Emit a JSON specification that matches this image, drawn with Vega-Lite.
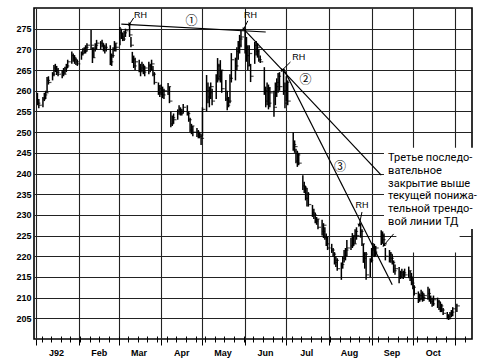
{
  "$schema": "https://vega.github.io/schema/vega-lite/v6.json",
  "width": 438,
  "height": 331,
  "autosize": "none",
  "padding": {"left": 34, "top": 8, "right": 13, "bottom": 20},
  "background": "white",
  "config": {
    "view": {"stroke": "#000", "strokeWidth": 1.6},
    "axisY": {"grid": true, "gridColor": "#222", "gridWidth": 1.1, "domain": false, "ticks": false, "labelPadding": 3, "labelFont": "Liberation Sans", "labelFontWeight": "bold", "labelFontSize": 9, "labelColor": "#000"}
  },
  "datasets": {
    "bars": [
      {"d":"1992-01-02","h":259.5,"l":256.5,"c":257},
      {"d":"1992-01-03","h":258,"l":255.8,"c":256.5},
      {"d":"1992-01-06","h":258.5,"l":256,"c":258},
      {"d":"1992-01-07","h":259.5,"l":257.5,"c":259},
      {"d":"1992-01-08","h":260,"l":258,"c":259.5},
      {"d":"1992-01-09","h":263.3,"l":259.5,"c":262.5},
      {"d":"1992-01-10","h":263.5,"l":261.5,"c":262},
      {"d":"1992-01-13","h":264.5,"l":262.5,"c":264},
      {"d":"1992-01-14","h":266.2,"l":263.5,"c":265.5},
      {"d":"1992-01-15","h":266.5,"l":264.5,"c":265},
      {"d":"1992-01-16","h":266,"l":263.8,"c":264.5},
      {"d":"1992-01-17","h":265.5,"l":263.5,"c":264},
      {"d":"1992-01-20","h":265,"l":263,"c":264.5},
      {"d":"1992-01-21","h":265.5,"l":263.5,"c":264},
      {"d":"1992-01-22","h":265.8,"l":264,"c":265.5},
      {"d":"1992-01-23","h":266.5,"l":264.5,"c":266},
      {"d":"1992-01-24","h":267.5,"l":265.5,"c":267},
      {"d":"1992-01-27","h":269.5,"l":266.5,"c":268.5},
      {"d":"1992-01-28","h":269,"l":267,"c":268},
      {"d":"1992-01-29","h":268.6,"l":266.5,"c":267.5},
      {"d":"1992-01-30","h":268,"l":266.2,"c":267},
      {"d":"1992-01-31","h":267.5,"l":266,"c":266.5},
      {"d":"1992-02-03","h":269.5,"l":267.5,"c":269},
      {"d":"1992-02-04","h":270.3,"l":268.5,"c":270},
      {"d":"1992-02-05","h":270.5,"l":269,"c":269.5},
      {"d":"1992-02-06","h":271,"l":269,"c":270.5},
      {"d":"1992-02-07","h":271.5,"l":269.5,"c":271},
      {"d":"1992-02-10","h":274.7,"l":270,"c":271},
      {"d":"1992-02-11","h":270.5,"l":266.7,"c":268},
      {"d":"1992-02-12","h":270.5,"l":268,"c":270},
      {"d":"1992-02-13","h":271.5,"l":269.5,"c":271},
      {"d":"1992-02-14","h":272.3,"l":270,"c":271.5},
      {"d":"1992-02-17","h":272,"l":270,"c":271.5},
      {"d":"1992-02-18","h":272.3,"l":270.5,"c":271},
      {"d":"1992-02-19","h":271.5,"l":269.5,"c":270},
      {"d":"1992-02-20","h":271,"l":269,"c":270.5},
      {"d":"1992-02-21","h":271.5,"l":269.5,"c":270},
      {"d":"1992-02-24","h":271,"l":266.2,"c":267},
      {"d":"1992-02-25","h":269,"l":266,"c":268.5},
      {"d":"1992-02-26","h":270.5,"l":268,"c":270},
      {"d":"1992-02-27","h":272,"l":269.5,"c":271.5},
      {"d":"1992-02-28","h":271.5,"l":269.5,"c":270.5},
      {"d":"1992-03-02","h":275.4,"l":271,"c":274},
      {"d":"1992-03-03","h":275,"l":272.5,"c":273},
      {"d":"1992-03-04","h":274,"l":272,"c":272.5},
      {"d":"1992-03-05","h":274.5,"l":272,"c":274},
      {"d":"1992-03-06","h":275,"l":273,"c":274.5},
      {"d":"1992-03-09","h":276.2,"l":273,"c":273.5},
      {"d":"1992-03-10","h":273,"l":270.5,"c":271},
      {"d":"1992-03-11","h":269.4,"l":266.7,"c":267.5},
      {"d":"1992-03-12","h":268.5,"l":265.5,"c":266},
      {"d":"1992-03-13","h":268,"l":265,"c":267},
      {"d":"1992-03-16","h":267.5,"l":264.5,"c":265},
      {"d":"1992-03-17","h":266.5,"l":263.5,"c":265.5},
      {"d":"1992-03-18","h":267,"l":264.5,"c":266},
      {"d":"1992-03-19","h":266.5,"l":264,"c":264.5},
      {"d":"1992-03-20","h":266,"l":263.5,"c":265.5},
      {"d":"1992-03-23","h":267,"l":264,"c":266},
      {"d":"1992-03-24","h":266.5,"l":264.5,"c":265},
      {"d":"1992-03-25","h":267.5,"l":265,"c":266.5},
      {"d":"1992-03-26","h":266,"l":263.5,"c":264},
      {"d":"1992-03-27","h":264.5,"l":261.5,"c":262},
      {"d":"1992-03-30","h":262,"l":259,"c":259.5},
      {"d":"1992-03-31","h":261.4,"l":258.5,"c":260.5},
      {"d":"1992-04-01","h":261.5,"l":259,"c":260},
      {"d":"1992-04-02","h":261,"l":258.2,"c":259},
      {"d":"1992-04-03","h":260.5,"l":258,"c":260},
      {"d":"1992-04-06","h":261.9,"l":259,"c":261},
      {"d":"1992-04-07","h":261,"l":257,"c":257.5},
      {"d":"1992-04-08","h":255,"l":251.2,"c":252},
      {"d":"1992-04-09","h":254,"l":251.5,"c":253.5},
      {"d":"1992-04-10","h":254.5,"l":252,"c":253},
      {"d":"1992-04-13","h":255.5,"l":253,"c":255},
      {"d":"1992-04-14","h":256.5,"l":254.2,"c":255.5},
      {"d":"1992-04-15","h":256,"l":254,"c":254.5},
      {"d":"1992-04-16","h":255.5,"l":254,"c":255},
      {"d":"1992-04-17","h":256.8,"l":254.5,"c":256},
      {"d":"1992-04-20","h":256.5,"l":254,"c":254.5},
      {"d":"1992-04-21","h":255,"l":252.5,"c":253},
      {"d":"1992-04-22","h":253.5,"l":250,"c":250.5},
      {"d":"1992-04-23","h":252,"l":249.5,"c":251.5},
      {"d":"1992-04-24","h":251.5,"l":249,"c":250},
      {"d":"1992-04-27","h":251,"l":248.8,"c":250},
      {"d":"1992-04-28","h":250.5,"l":248.5,"c":249.5},
      {"d":"1992-04-29","h":250,"l":248.5,"c":249},
      {"d":"1992-04-30","h":249.5,"l":246.9,"c":248.5},
      {"d":"1992-05-01","h":256,"l":249,"c":255.5},
      {"d":"1992-05-04","h":263.8,"l":255,"c":260},
      {"d":"1992-05-05","h":262,"l":257,"c":258.5},
      {"d":"1992-05-06","h":261,"l":256,"c":259.5},
      {"d":"1992-05-07","h":262,"l":258,"c":261},
      {"d":"1992-05-08","h":260.5,"l":256.5,"c":257.5},
      {"d":"1992-05-11","h":264,"l":258,"c":263},
      {"d":"1992-05-12","h":267.9,"l":262,"c":266},
      {"d":"1992-05-13","h":266.5,"l":262.5,"c":263.5},
      {"d":"1992-05-14","h":267.4,"l":262,"c":265},
      {"d":"1992-05-15","h":265,"l":259.5,"c":260.5},
      {"d":"1992-05-18","h":262.6,"l":257.5,"c":258},
      {"d":"1992-05-19","h":260,"l":255.3,"c":256.5},
      {"d":"1992-05-20","h":258.5,"l":256,"c":257.5},
      {"d":"1992-05-21","h":264,"l":257,"c":263},
      {"d":"1992-05-22","h":269.1,"l":262,"c":267.5},
      {"d":"1992-05-25","h":268,"l":262.5,"c":266},
      {"d":"1992-05-26","h":270.5,"l":265,"c":269.5},
      {"d":"1992-05-27","h":272,"l":267.5,"c":271},
      {"d":"1992-05-28","h":273.5,"l":269,"c":272.5},
      {"d":"1992-05-29","h":274.6,"l":270.5,"c":273},
      {"d":"1992-06-01","h":275,"l":269,"c":270.5},
      {"d":"1992-06-02","h":273,"l":267,"c":268.5},
      {"d":"1992-06-03","h":271,"l":265,"c":266},
      {"d":"1992-06-04","h":271,"l":266,"c":269},
      {"d":"1992-06-05","h":266.5,"l":262.1,"c":263.5},
      {"d":"1992-06-08","h":271.8,"l":266.5,"c":271},
      {"d":"1992-06-09","h":272,"l":268.5,"c":269.5},
      {"d":"1992-06-10","h":271.5,"l":268,"c":270.5},
      {"d":"1992-06-11","h":270,"l":267,"c":267.5},
      {"d":"1992-06-12","h":268.5,"l":266.7,"c":267},
      {"d":"1992-06-15","h":265.7,"l":259,"c":260},
      {"d":"1992-06-16","h":261,"l":256,"c":257.5},
      {"d":"1992-06-17","h":262,"l":256.5,"c":260.5},
      {"d":"1992-06-18","h":261.5,"l":255.5,"c":257},
      {"d":"1992-06-19","h":260.9,"l":256,"c":259.5},
      {"d":"1992-06-22","h":260,"l":253.7,"c":256},
      {"d":"1992-06-23","h":262,"l":256.5,"c":261},
      {"d":"1992-06-24","h":263,"l":258.5,"c":262},
      {"d":"1992-06-25","h":264.3,"l":259.5,"c":263.5},
      {"d":"1992-06-26","h":264.5,"l":260,"c":261},
      {"d":"1992-06-29","h":265.3,"l":259,"c":260},
      {"d":"1992-06-30","h":262,"l":255.8,"c":257},
      {"d":"1992-07-01","h":263.5,"l":257.5,"c":262},
      {"d":"1992-07-02","h":262.5,"l":256.5,"c":257.5},
      {"d":"1992-07-06","h":250,"l":245.5,"c":247},
      {"d":"1992-07-07","h":248,"l":245,"c":246.5},
      {"d":"1992-07-08","h":246,"l":242.5,"c":243},
      {"d":"1992-07-09","h":245.5,"l":241.6,"c":244.5},
      {"d":"1992-07-10","h":245,"l":242,"c":242.5},
      {"d":"1992-07-13","h":239.6,"l":236,"c":237},
      {"d":"1992-07-14","h":238,"l":235.3,"c":236.5},
      {"d":"1992-07-15","h":237,"l":233.5,"c":234},
      {"d":"1992-07-16","h":236.5,"l":232,"c":235},
      {"d":"1992-07-17","h":235.5,"l":232,"c":232.5},
      {"d":"1992-07-20","h":232.4,"l":229.5,"c":230.5},
      {"d":"1992-07-21","h":231.5,"l":229,"c":230},
      {"d":"1992-07-22","h":230.5,"l":228,"c":228.5},
      {"d":"1992-07-23","h":229.5,"l":227.6,"c":229},
      {"d":"1992-07-24","h":229,"l":226.5,"c":227},
      {"d":"1992-07-27","h":228.8,"l":225,"c":226},
      {"d":"1992-07-28","h":228,"l":224.4,"c":227.5},
      {"d":"1992-07-29","h":227,"l":224,"c":224.5},
      {"d":"1992-07-30","h":225.5,"l":222.5,"c":223},
      {"d":"1992-07-31","h":224.7,"l":221.5,"c":222},
      {"d":"1992-08-03","h":223,"l":220.8,"c":221.5},
      {"d":"1992-08-04","h":222,"l":219.8,"c":220.5},
      {"d":"1992-08-05","h":221,"l":218,"c":218.5},
      {"d":"1992-08-06","h":220,"l":217.4,"c":219},
      {"d":"1992-08-07","h":219.5,"l":216.5,"c":217},
      {"d":"1992-08-10","h":218.5,"l":214.3,"c":218},
      {"d":"1992-08-11","h":220,"l":217,"c":219.5},
      {"d":"1992-08-12","h":221.5,"l":218.5,"c":220},
      {"d":"1992-08-13","h":222,"l":219,"c":221.5},
      {"d":"1992-08-14","h":223.9,"l":220,"c":222},
      {"d":"1992-08-17","h":224.5,"l":221.5,"c":222.5},
      {"d":"1992-08-18","h":225.6,"l":222,"c":225},
      {"d":"1992-08-19","h":225,"l":222.5,"c":223},
      {"d":"1992-08-20","h":226.5,"l":223,"c":226},
      {"d":"1992-08-21","h":227,"l":224,"c":225},
      {"d":"1992-08-24","h":228,"l":224.5,"c":226},
      {"d":"1992-08-25","h":226.5,"l":222.5,"c":223},
      {"d":"1992-08-26","h":223,"l":218.4,"c":219.5},
      {"d":"1992-08-27","h":221,"l":217,"c":220.5},
      {"d":"1992-08-28","h":221,"l":214.3,"c":215.5},
      {"d":"1992-08-31","h":219.5,"l":215,"c":219},
      {"d":"1992-09-01","h":222,"l":218.5,"c":221.5},
      {"d":"1992-09-02","h":223.2,"l":220,"c":222},
      {"d":"1992-09-03","h":223,"l":219.8,"c":221},
      {"d":"1992-09-04","h":222.5,"l":220,"c":222},
      {"d":"1992-09-08","h":226.3,"l":222.7,"c":225},
      {"d":"1992-09-09","h":226,"l":223,"c":224},
      {"d":"1992-09-10","h":225.5,"l":222.5,"c":223},
      {"d":"1992-09-11","h":222,"l":219,"c":220},
      {"d":"1992-09-14","h":221.5,"l":218.5,"c":220.5},
      {"d":"1992-09-15","h":221,"l":218.4,"c":219.5},
      {"d":"1992-09-16","h":220.5,"l":218,"c":218.5},
      {"d":"1992-09-17","h":219,"l":216,"c":216.5},
      {"d":"1992-09-18","h":218,"l":215.5,"c":217},
      {"d":"1992-09-21","h":217.4,"l":213.5,"c":215},
      {"d":"1992-09-22","h":216.5,"l":214.5,"c":216},
      {"d":"1992-09-23","h":217,"l":214.7,"c":215.5},
      {"d":"1992-09-24","h":216.5,"l":214.5,"c":216},
      {"d":"1992-09-25","h":217,"l":215,"c":215.5},
      {"d":"1992-09-28","h":217.5,"l":214.7,"c":216.5},
      {"d":"1992-09-29","h":216.5,"l":214,"c":215},
      {"d":"1992-09-30","h":216,"l":213,"c":213.5},
      {"d":"1992-10-01","h":215,"l":212,"c":212.5},
      {"d":"1992-10-02","h":213,"l":210.5,"c":211},
      {"d":"1992-10-05","h":211.5,"l":208.7,"c":209.5},
      {"d":"1992-10-06","h":211,"l":209,"c":210.5},
      {"d":"1992-10-07","h":211.9,"l":209.5,"c":211},
      {"d":"1992-10-08","h":211.5,"l":209,"c":210},
      {"d":"1992-10-09","h":211,"l":209.2,"c":210.5},
      {"d":"1992-10-12","h":212.6,"l":209.5,"c":211},
      {"d":"1992-10-13","h":212.2,"l":209,"c":209.5},
      {"d":"1992-10-14","h":210.5,"l":208.5,"c":209},
      {"d":"1992-10-15","h":210,"l":207.8,"c":208.5},
      {"d":"1992-10-16","h":210.5,"l":208,"c":209.5},
      {"d":"1992-10-19","h":210,"l":207.5,"c":209},
      {"d":"1992-10-20","h":209.5,"l":207,"c":207.5},
      {"d":"1992-10-21","h":209,"l":206.5,"c":208},
      {"d":"1992-10-22","h":208.5,"l":206.5,"c":207},
      {"d":"1992-10-23","h":207.5,"l":205.8,"c":206.2},
      {"d":"1992-10-26","h":206.5,"l":204.8,"c":205.5},
      {"d":"1992-10-27","h":206,"l":204.6,"c":205},
      {"d":"1992-10-28","h":206.5,"l":204.8,"c":206},
      {"d":"1992-10-29","h":207,"l":205.3,"c":206.5},
      {"d":"1992-10-30","h":207.7,"l":205.5,"c":207.3},
      {"d":"1992-11-02","h":208.5,"l":206.5,"c":208}
    ],
    "boxes": [
      {"d":"1992-09-10","d2":"1992-11-16","v":246.2,"v2":226.6},
      {"d":"1992-09-19","d2":"1992-11-04","v":226.6,"v2":220.9}
    ],
    "trend": [
      {"d":"1992-03-03","v":276.1,"d2":"1992-06-16","v2":274.2},
      {"d":"1992-05-31","v":274.9,"d2":"1992-09-08","v2":239.6},
      {"d":"1992-06-29","v":265.3,"d2":"1992-09-16","v2":213.1}
    ],
    "arrows": [
      {"id":1,"d":"1992-03-12","v":277.6,"d2":"1992-03-09","v2":276.1},
      {"id":2,"d":"1992-06-03","v":276.9,"d2":"1992-05-31","v2":274.9},
      {"id":3,"d":"1992-07-04","v":266.95,"d2":"1992-06-28","v2":265.0},
      {"id":4,"d":"1992-08-25","v":230.7,"d2":"1992-08-23","v2":227.55},
      {"id":5,"d":"1992-09-17","v":225.4,"d2":"1992-09-10","v2":222.7}
    ],
    "rh": [
      {"d":"1992-03-17","v":278.3,"t":"RH"},
      {"d":"1992-06-05","v":278.3,"t":"RH"},
      {"d":"1992-07-10","v":268.2,"t":"RH"},
      {"d":"1992-08-25","v":232.4,"t":"RH"}
    ],
    "nums": [
      {"d":"1992-04-23","v":276.9,"t":"①"},
      {"d":"1992-07-15","v":262.6,"t":"②"},
      {"d":"1992-08-09","v":241.6,"t":"③"}
    ],
    "note": [
      {"d":"1992-09-13","v":245.2}
    ]
  },
  "layer": [
    {
      "data": {"name": "boxes"},
      "mark": {"type": "rect", "fill": "white", "strokeWidth": 0},
      "encoding": {
        "x": {"field": "d", "type": "temporal", "axis": null, "scale": {"type": "utc", "domain": [{"year":1991,"month":12,"date":30,"hours":12,"utc":true},{"year":1992,"month":11,"date":13,"utc":true}]}},
        "x2": {"field": "d2"},
        "y": {"field": "v", "type": "quantitative", "axis": {"title": null, "values": [205,210,215,220,225,230,235,240,245,250,255,260,265,270,275]}, "scale": {"domain": [200, 280], "zero": false}},
        "y2": {"field": "v2"}
      }
    },
    {
      "data": {"name": "trend"},
      "mark": {"type": "rule", "color": "#000", "strokeWidth": 1.2},
      "encoding": {
        "x": {"field": "d", "type": "temporal", "axis": null, "scale": {"type": "utc", "domain": [{"year":1991,"month":12,"date":30,"hours":12,"utc":true},{"year":1992,"month":11,"date":13,"utc":true}]}},
        "x2": {"field": "d2"},
        "y": {"field": "v", "type": "quantitative", "axis": {"title": null, "values": [205,210,215,220,225,230,235,240,245,250,255,260,265,270,275]}, "scale": {"domain": [200, 280], "zero": false}},
        "y2": {"field": "v2"}
      }
    },
    {
      "data": {"name": "bars"},
      "mark": {"type": "rule", "color": "#000", "strokeWidth": 1.5},
      "encoding": {
        "x": {"field": "d", "type": "temporal",
          "scale": {"type": "utc", "domain": [{"year":1991,"month":12,"date":30,"hours":12,"utc":true},{"year":1992,"month":11,"date":13,"utc":true}]},
          "axis": {"orient": "bottom", "title": null, "tickCount": "month", "grid": true, "gridColor": "#222", "gridWidth": 1.1, "domain": false,
            "tickSize": 6, "tickColor": "#000", "tickWidth": 1,
            "labelExpr": "utcmonth(datum.value) == 0 ? 'J92' : (utcmonth(datum.value) == 10 ? '' : utcFormat(datum.value, '%b'))",
            "labelOffset": 20, "labelPadding": 3, "labelFont": "Liberation Sans", "labelFontWeight": "bold", "labelFontSize": 9, "labelColor": "#000",
            "labelOverlap": false, "labelFlush": false, "labelBound": false}},
        "y": {"field": "l", "type": "quantitative", "scale": {"domain": [200, 280], "zero": false},
          "axis": {"title": null, "values": [205,210,215,220,225,230,235,240,245,250,255,260,265,270,275]}},
        "y2": {"field": "h"}
      }
    },
    {
      "data": {"name": "bars"},
      "mark": {"type": "tick", "orient": "horizontal", "color": "#000", "thickness": 1.2, "size": 3, "xOffset": 1.5},
      "encoding": {
        "x": {"field": "d", "type": "temporal",
          "scale": {"type": "utc", "domain": [{"year":1991,"month":12,"date":30,"hours":12,"utc":true},{"year":1992,"month":11,"date":13,"utc":true}]},
          "axis": {"orient": "bottom", "title": null, "tickCount": "week", "grid": false, "labels": false, "domain": false, "tickSize": 6, "offset": -3, "tickColor": "#000", "tickWidth": 1}},
        "y": {"field": "c", "type": "quantitative", "axis": {"title": null, "values": [205,210,215,220,225,230,235,240,245,250,255,260,265,270,275]}, "scale": {"domain": [200, 280], "zero": false}}
      }
    },
    {
      "data": {"name": "arrows"},
      "mark": {"type": "rule", "color": "#000", "strokeWidth": 1},
      "encoding": {
        "x": {"field": "d", "type": "temporal", "axis": null, "scale": {"type": "utc", "domain": [{"year":1991,"month":12,"date":30,"hours":12,"utc":true},{"year":1992,"month":11,"date":13,"utc":true}]}},
        "x2": {"field": "d2"},
        "y": {"field": "v", "type": "quantitative", "axis": {"title": null, "values": [205,210,215,220,225,230,235,240,245,250,255,260,265,270,275]}, "scale": {"domain": [200, 280], "zero": false}},
        "y2": {"field": "v2"}
      }
    },
    {
      "data": {"name": "arrows"},
      "transform": [{"filter": "datum.id != 4"}],
      "mark": {"type": "point", "shape": "triangle", "filled": true, "color": "#000", "size": 16, "angle": 217, "opacity": 1},
      "encoding": {
        "x": {"field": "d2", "type": "temporal", "axis": null, "scale": {"type": "utc", "domain": [{"year":1991,"month":12,"date":30,"hours":12,"utc":true},{"year":1992,"month":11,"date":13,"utc":true}]}},
        "y": {"field": "v2", "type": "quantitative", "axis": {"title": null, "values": [205,210,215,220,225,230,235,240,245,250,255,260,265,270,275]}, "scale": {"domain": [200, 280], "zero": false}}
      }
    },
    {
      "data": {"name": "arrows"},
      "transform": [{"filter": "datum.id == 4"}],
      "mark": {"type": "point", "shape": "triangle", "filled": true, "color": "#000", "size": 16, "angle": 193, "opacity": 1},
      "encoding": {
        "x": {"field": "d2", "type": "temporal", "axis": null, "scale": {"type": "utc", "domain": [{"year":1991,"month":12,"date":30,"hours":12,"utc":true},{"year":1992,"month":11,"date":13,"utc":true}]}},
        "y": {"field": "v2", "type": "quantitative", "axis": {"title": null, "values": [205,210,215,220,225,230,235,240,245,250,255,260,265,270,275]}, "scale": {"domain": [200, 280], "zero": false}}
      }
    },
    {
      "data": {"name": "rh"},
      "mark": {"type": "text", "font": "Liberation Sans", "fontSize": 9, "color": "#000", "align": "center", "baseline": "middle"},
      "encoding": {
        "x": {"field": "d", "type": "temporal", "axis": null, "scale": {"type": "utc", "domain": [{"year":1991,"month":12,"date":30,"hours":12,"utc":true},{"year":1992,"month":11,"date":13,"utc":true}]}},
        "y": {"field": "v", "type": "quantitative", "axis": {"title": null, "values": [205,210,215,220,225,230,235,240,245,250,255,260,265,270,275]}, "scale": {"domain": [200, 280], "zero": false}},
        "text": {"field": "t"}
      }
    },
    {
      "data": {"name": "nums"},
      "mark": {"type": "text", "font": "Noto Sans CJK JP", "fontSize": 12, "color": "#000", "align": "center", "baseline": "middle"},
      "encoding": {
        "x": {"field": "d", "type": "temporal", "axis": null, "scale": {"type": "utc", "domain": [{"year":1991,"month":12,"date":30,"hours":12,"utc":true},{"year":1992,"month":11,"date":13,"utc":true}]}},
        "y": {"field": "v", "type": "quantitative", "axis": {"title": null, "values": [205,210,215,220,225,230,235,240,245,250,255,260,265,270,275]}, "scale": {"domain": [200, 280], "zero": false}},
        "text": {"field": "t"}
      }
    },
    {
      "data": {"name": "note"},
      "mark": {"type": "text", "font": "Roboto", "fontSize": 11, "lineHeight": 12.8, "color": "#000", "align": "left", "baseline": "top",
        "text": ["Третье последо-", "вательное", "закрытие выше", "текущей понижа-", "тельной трендо-", "вой линии ТД"]},
      "encoding": {
        "x": {"field": "d", "type": "temporal", "axis": null, "scale": {"type": "utc", "domain": [{"year":1991,"month":12,"date":30,"hours":12,"utc":true},{"year":1992,"month":11,"date":13,"utc":true}]}},
        "y": {"field": "v", "type": "quantitative", "axis": {"title": null, "values": [205,210,215,220,225,230,235,240,245,250,255,260,265,270,275]}, "scale": {"domain": [200, 280], "zero": false}}
      }
    }
  ],
  "resolve": {"axis": {"x": "independent"}}
}
